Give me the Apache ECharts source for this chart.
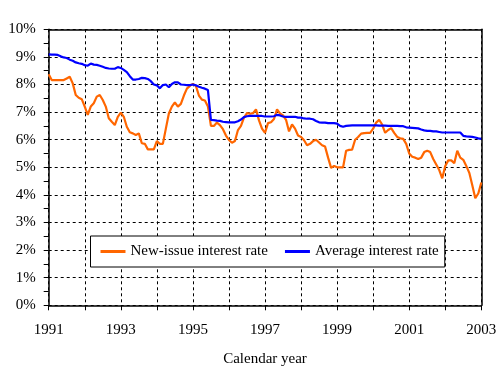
<!DOCTYPE html>
<html>
<head>
<meta charset="utf-8">
<script src="https://cdn.jsdelivr.net/npm/echarts@6/dist/echarts.min.js"></script>
<style>
html,body{margin:0;padding:0;background:#fff;}
#chart{width:504px;height:381px;}
</style>
</head>
<body>
<div id="chart"></div>
<script>
// Monthly series, Jan 1991 .. Jan 2003 (145 points)
const startYear = 1991;
const seriesNames = ['New-issue interest rate', 'Average interest rate'];
const newIssueRate = [
  8.37, 8.16, 8.16, 8.16, 8.16, 8.16, 8.22, 8.28, 8.04, 7.62, 7.52, 7.47,
  7.20, 6.90, 7.20, 7.32, 7.56, 7.62, 7.44, 7.20, 6.78, 6.65, 6.53, 6.83,
  6.98, 6.83, 6.47, 6.27, 6.23, 6.17, 6.23, 5.87, 5.85, 5.65, 5.65, 5.65,
  5.95, 5.85, 5.85, 6.40, 6.95, 7.20, 7.35, 7.20, 7.30, 7.60, 7.85, 7.95,
  8.02, 7.95, 7.60, 7.45, 7.42, 7.20, 6.50, 6.50, 6.62, 6.53, 6.38, 6.15,
  5.99, 5.89, 5.95, 6.35, 6.50, 6.80, 6.96, 6.94, 6.96, 7.10, 6.70, 6.40,
  6.25, 6.60, 6.63, 6.75, 7.10, 6.95, 6.88, 6.72, 6.30, 6.55, 6.40, 6.15,
  6.10, 5.98, 5.80, 5.85, 5.95, 6.00, 5.90, 5.80, 5.75, 5.35, 4.98, 5.05,
  5.00, 5.00, 5.00, 5.60, 5.63, 5.64, 6.00, 6.10, 6.22, 6.24, 6.25, 6.25,
  6.40, 6.62, 6.72, 6.55, 6.25, 6.35, 6.42, 6.25, 6.10, 6.05, 6.03, 5.85,
  5.50, 5.38, 5.35, 5.30, 5.35, 5.55, 5.60, 5.55, 5.30, 5.10, 4.90, 4.60,
  5.05, 5.25, 5.25, 5.15, 5.60, 5.35, 5.27, 5.05, 4.80, 4.35, 3.88, 4.05,
  4.45
];
const averageRate = [
  9.09, 9.08, 9.08, 9.07, 9.02, 8.98, 8.96, 8.90, 8.86, 8.80, 8.77, 8.75,
  8.70, 8.68, 8.76, 8.72, 8.71, 8.68, 8.64, 8.60, 8.58, 8.57, 8.57, 8.63,
  8.60, 8.53, 8.45, 8.30, 8.18, 8.18, 8.20, 8.24, 8.23, 8.20, 8.12, 8.00,
  7.97, 7.86, 7.98, 8.00, 7.90, 8.02, 8.08, 8.08, 8.00, 7.99, 7.98, 7.98,
  8.00, 7.97, 7.92, 7.88, 7.85, 7.80, 6.72, 6.71, 6.69, 6.68, 6.65, 6.64,
  6.63, 6.63, 6.63, 6.67, 6.73, 6.82, 6.85, 6.86, 6.86, 6.86, 6.86, 6.86,
  6.84, 6.84, 6.84, 6.85, 6.90, 6.88, 6.84, 6.83, 6.83, 6.83, 6.83, 6.80,
  6.80, 6.77, 6.76, 6.76, 6.74, 6.68, 6.63, 6.62, 6.62, 6.60, 6.60, 6.60,
  6.58, 6.50, 6.47, 6.50, 6.51, 6.52, 6.52, 6.52, 6.52, 6.52, 6.52, 6.52,
  6.52, 6.52, 6.51, 6.51, 6.51, 6.50, 6.50, 6.50, 6.50, 6.49, 6.49, 6.45,
  6.44, 6.43, 6.42, 6.41, 6.37, 6.34, 6.32, 6.32, 6.30, 6.30, 6.28, 6.26,
  6.26, 6.26, 6.26, 6.26, 6.26, 6.26, 6.14, 6.12, 6.11, 6.10, 6.08, 6.05,
  6.03
];
const xMin = 1991, xMax = 2003;
const yTicks = [0, 10];
const xAxisTitle = 'Calendar year';

const toPairs = arr => arr.map((v, i) => [startYear + i / 12, v]);
const FONT = 'Liberation Serif';

const chart = echarts.init(document.getElementById('chart'), null, {renderer: 'canvas'});
chart.setOption({
  animation: false,
  backgroundColor: '#fff',
  textStyle: {fontFamily: FONT, color: '#000'},
  grid: {left: 48.7, right: 22.7, top: 29.3, bottom: 75.7, containLabel: false},
  legend: {
    data: seriesNames,
    left: 90.5, top: 236,
    orient: 'horizontal',
    backgroundColor: '#fff',
    borderColor: '#000', borderWidth: 1,
    padding: [8, 6, 8, 10],
    itemGap: 17, itemWidth: 25, itemHeight: 3,
    icon: 'rect',
    textStyle: {fontFamily: FONT, fontSize: 15, color: '#000'}
  },
  xAxis: [{
    type: 'value', min: xMin, max: xMax, interval: 1,
    name: xAxisTitle, nameLocation: 'middle', nameGap: 46,
    nameTextStyle: {fontFamily: FONT, fontSize: 15, color: '#000'},
    axisLine: {show: true, onZero: false, lineStyle: {color: '#000', width: 1.5}},
    axisTick: {show: true, inside: false, length: 5, lineStyle: {color: '#000', width: 1}},
    axisLabel: {
      fontFamily: FONT, fontSize: 15, color: '#000', margin: 17,
      formatter: v => ((Math.round(v) - xMin) % 2 === 0 ? String(Math.round(v)) : '')
    },
    splitLine: {show: true, lineStyle: {color: '#000', type: [3, 3], width: 1}}
  }, {
    type: 'value', position: 'top', min: xMin, max: xMax, interval: 1,
    axisLine: {show: true, onZero: false, lineStyle: {color: '#000', width: 1.5}},
    axisTick: {show: false}, axisLabel: {show: false}, splitLine: {show: false}
  }],
  yAxis: [{
    type: 'value', min: yTicks[0], max: yTicks[1], interval: 1,
    axisLine: {show: true, onZero: false, lineStyle: {color: '#000', width: 1.5}},
    axisTick: {show: true, inside: false, length: 5, lineStyle: {color: '#000', width: 1}},
    minorTick: {show: true, splitNumber: 2, length: 5, lineStyle: {color: '#000', width: 1}},
    axisLabel: {fontFamily: FONT, fontSize: 15, color: '#000', margin: 13, formatter: '{value}%'},
    splitLine: {show: true, lineStyle: {color: '#000', type: [3, 3], width: 1}}
  }, {
    type: 'value', position: 'right', min: yTicks[0], max: yTicks[1], interval: 1,
    axisLine: {show: true, onZero: false, lineStyle: {color: '#000', width: 1.5}},
    axisTick: {show: false}, axisLabel: {show: false}, splitLine: {show: false}
  }],
  series: [{
    name: seriesNames[0], type: 'line', data: toPairs(newIssueRate),
    symbol: 'none', color: '#FF6600',
    lineStyle: {color: '#FF6600', width: 2.2}, z: 3
  }, {
    name: seriesNames[1], type: 'line', data: toPairs(averageRate),
    symbol: 'none', color: '#0000FF',
    lineStyle: {color: '#0000FF', width: 2.2}, z: 4
  }]
});
</script>
</body>
</html>
